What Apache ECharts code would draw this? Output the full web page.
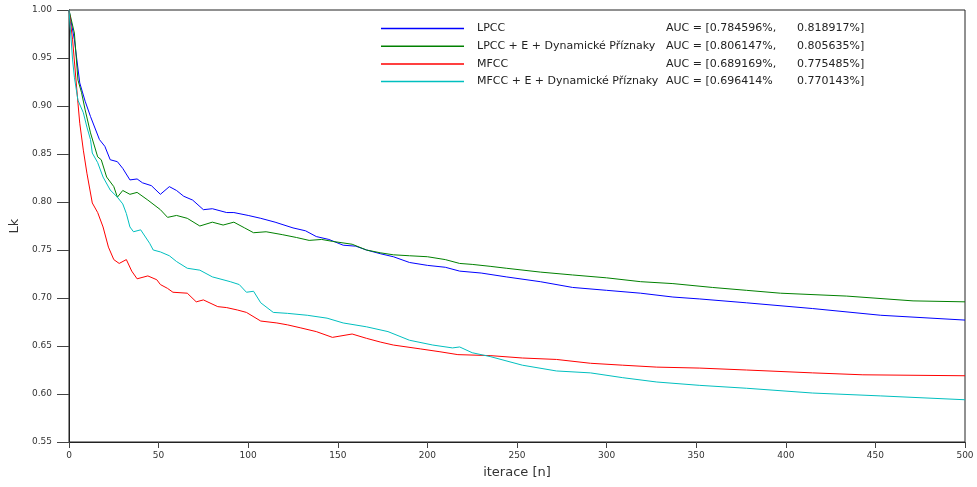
<!DOCTYPE html>
<html>
<head>
<meta charset="utf-8">
<script src="https://cdn.jsdelivr.net/npm/echarts@6/dist/echarts.min.js"></script>
<style>
  html, body { margin: 0; padding: 0; background: #fff; }
  #chart { width: 977px; height: 487px; }
</style>
</head>
<body>
<div id="chart"></div>
<script>
// series names and the AUC text shown in the legend
var seriesNames = ['LPCC', 'LPCC + E + Dynamické Příznaky', 'MFCC', 'MFCC + E + Dynamické Příznaky'];
var aucLeft = ['AUC = [0.784596%,', 'AUC = [0.806147%,', 'AUC = [0.689169%,', 'AUC = [0.696414%'];
var aucRight = ['0.818917%]', '0.805635%]', '0.775485%]', '0.770143%]'];
var seriesColors = ['#0000ff', '#008000', '#ff0000', '#00bfbf'];

var yTicks = [0.55, 0.60, 0.65, 0.70, 0.75, 0.80, 0.85, 0.90, 0.95, 1.00];
var xTicks = [0, 50, 100, 150, 200, 250, 300, 350, 400, 450, 500];

// LPCC
var lpccIter = [0, 3, 6, 9, 12, 17, 20, 23, 27, 30, 34, 38, 41, 46, 51, 56, 60, 64, 69, 75, 80, 88, 92, 100, 107, 115, 125, 132, 138, 145, 153, 160, 166, 174, 181, 190, 200, 210, 218, 230, 244, 263, 281, 300, 319, 337, 352, 378, 415, 453, 500];
var lpccLk = [1.000, 0.969, 0.924, 0.905, 0.889, 0.865, 0.858, 0.844, 0.842, 0.835, 0.823, 0.824, 0.820, 0.817, 0.808, 0.816, 0.812, 0.806, 0.802, 0.792, 0.793, 0.789, 0.789, 0.786, 0.783, 0.779, 0.773, 0.770, 0.764, 0.761, 0.755, 0.754, 0.750, 0.746, 0.743, 0.737, 0.734, 0.732, 0.728, 0.726, 0.722, 0.717, 0.711, 0.708, 0.705, 0.701, 0.699, 0.695, 0.689, 0.682, 0.677];

// LPCC + E + Dynamicke Priznaky
var lpccDynIter = [0, 3, 5, 7, 9, 12, 16, 18, 21, 25, 27, 30, 34, 38, 44, 51, 55, 60, 66, 73, 80, 86, 92, 98, 103, 110, 119, 127, 134, 141, 147, 158, 166, 174, 181, 190, 200, 210, 218, 225, 235, 244, 263, 281, 300, 319, 337, 359, 378, 397, 434, 471, 500];
var lpccDynLk = [1.000, 0.976, 0.927, 0.914, 0.896, 0.872, 0.847, 0.844, 0.826, 0.816, 0.805, 0.812, 0.808, 0.810, 0.802, 0.792, 0.784, 0.786, 0.783, 0.775, 0.779, 0.776, 0.779, 0.773, 0.768, 0.769, 0.766, 0.763, 0.760, 0.761, 0.759, 0.756, 0.750, 0.747, 0.745, 0.744, 0.743, 0.740, 0.736, 0.735, 0.733, 0.731, 0.727, 0.724, 0.721, 0.717, 0.715, 0.711, 0.708, 0.705, 0.702, 0.697, 0.696];

// MFCC
var mfccIter = [0, 2, 5, 6, 8, 10, 13, 16, 19, 22, 25, 28, 32, 35, 38, 44, 49, 51, 55, 58, 66, 71, 75, 83, 88, 94, 99, 107, 116, 122, 129, 138, 147, 158, 166, 174, 181, 196, 207, 217, 235, 253, 272, 291, 309, 328, 352, 378, 415, 443, 500];
var mfccLk = [1.000, 0.969, 0.903, 0.882, 0.854, 0.830, 0.799, 0.789, 0.774, 0.753, 0.740, 0.736, 0.740, 0.728, 0.720, 0.723, 0.719, 0.714, 0.710, 0.706, 0.705, 0.696, 0.698, 0.691, 0.690, 0.6875, 0.685, 0.676, 0.674, 0.672, 0.669, 0.665, 0.659, 0.6625, 0.658, 0.654, 0.651, 0.647, 0.644, 0.641, 0.640, 0.6375, 0.636, 0.632, 0.630, 0.628, 0.627, 0.625, 0.622, 0.620, 0.619];

// MFCC + E + Dynamicke Priznaky
var mfccDynIter = [0, 2, 3, 5, 8, 10, 12, 13, 16, 19, 23, 27, 30, 32, 34, 36, 40, 45, 47, 51, 56, 60, 66, 73, 80, 90, 95, 99, 103, 107, 114, 122, 133, 144, 153, 166, 178, 190, 203, 214, 218, 225, 235, 253, 272, 291, 309, 328, 352, 378, 415, 453, 500];
var mfccDynLk = [1.000, 0.948, 0.930, 0.906, 0.893, 0.878, 0.865, 0.851, 0.841, 0.826, 0.8125, 0.805, 0.798, 0.788, 0.774, 0.769, 0.771, 0.757, 0.750, 0.748, 0.744, 0.738, 0.731, 0.729, 0.722, 0.717, 0.714, 0.706, 0.707, 0.695, 0.685, 0.684, 0.682, 0.679, 0.674, 0.670, 0.665, 0.656, 0.651, 0.648, 0.649, 0.643, 0.639, 0.630, 0.624, 0.622, 0.617, 0.6125, 0.609, 0.606, 0.601, 0.598, 0.594];

var iterLists = [lpccIter, lpccDynIter, mfccIter, mfccDynIter];
var lkLists = [lpccLk, lpccDynLk, mfccLk, mfccDynLk];

function pairs(xs, ys) {
    var out = [];
    for (var i = 0; i < xs.length; i++) {
        out.push([xs[i], ys[i]]);
    }
    return out;
}

var font = 'DejaVu Sans';
var chart = echarts.init(document.getElementById('chart'));

var series = [];
for (var s = 0; s < seriesNames.length; s++) {
    series.push({
        name: seriesNames[s],
        type: 'line',
        showSymbol: false,
        symbol: 'none',
        color: seriesColors[s],
        lineStyle: { width: 1, color: seriesColors[s] },
        data: pairs(iterLists[s], lkLists[s])
    });
}

var option = {
    animation: false,
    backgroundColor: '#fff',
    grid: {
        left: 69,
        right: 12,
        top: 10,
        bottom: 45,
        show: true,
        borderColor: '#222',
        borderWidth: 1
    },
    legend: {
        orient: 'vertical',
        left: 376,
        top: 17,
        icon: 'rect',
        itemWidth: 83,
        itemHeight: 1.5,
        itemGap: 4.7,
        data: seriesNames,
        textStyle: {
            fontFamily: font,
            fontSize: 11,
            color: '#222',
            lineHeight: 13,
            rich: {
                n: { fontFamily: font, fontSize: 11, color: '#222', width: 189, padding: [0, 0, 0, 8] },
                a: { fontFamily: font, fontSize: 11, color: '#222', width: 131 },
                b: { fontFamily: font, fontSize: 11, color: '#222' }
            }
        },
        formatter: function (name) {
            var i = seriesNames.indexOf(name);
            return '{n|' + name + '}{a|' + aucLeft[i] + '}{b|' + aucRight[i] + '}';
        }
    },
    xAxis: {
        type: 'value',
        min: 0,
        max: 500,
        interval: 50,
        name: 'iterace [n]',
        nameLocation: 'middle',
        nameGap: 24,
        nameTextStyle: { fontFamily: font, fontSize: 13, color: '#333' },
        axisLine: { lineStyle: { color: '#222', width: 1 } },
        axisTick: { show: true, inside: false, length: 6, lineStyle: { color: '#444' } },
        axisLabel: {
            fontFamily: font,
            fontSize: 9,
            color: '#333',
            margin: 9,
            formatter: function (v) { return xTicks.indexOf(v) >= 0 ? String(v) : ''; }
        },
        splitLine: { show: false }
    },
    yAxis: {
        type: 'value',
        min: 0.55,
        max: 1.0,
        interval: 0.05,
        name: 'Lk',
        nameLocation: 'middle',
        nameGap: 48,
        nameRotate: 90,
        nameTextStyle: { fontFamily: font, fontSize: 13, color: '#333' },
        axisLine: { show: true, lineStyle: { color: '#222', width: 1 } },
        axisTick: { show: true, inside: false, length: 12, lineStyle: { color: '#444' } },
        axisLabel: {
            fontFamily: font,
            fontSize: 9,
            color: '#333',
            margin: 17,
            formatter: function (v) {
                for (var k = 0; k < yTicks.length; k++) {
                    if (Math.abs(yTicks[k] - v) < 1e-6) return yTicks[k].toFixed(2);
                }
                return '';
            }
        },
        splitLine: { show: false }
    },
    series: series
};

chart.setOption(option);
</script>
</body>
</html>
